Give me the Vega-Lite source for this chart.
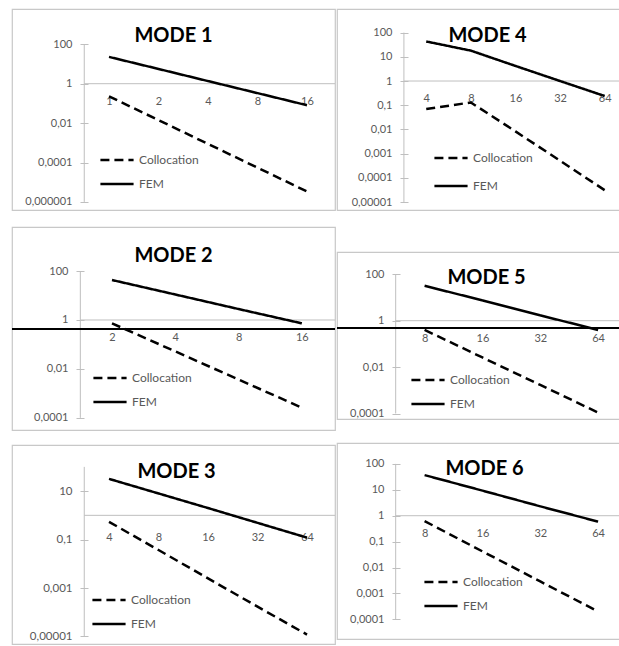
{
"$schema": "https://vega.github.io/schema/vega-lite/v6.json",
"padding": {"left": 10, "top": 8, "right": 0, "bottom": 0},
"background": "white",
"config": {
  "font": "Lato",
  "view": {"stroke": "#c8c8c8", "strokeWidth": 1.2},
  "axis": {"labelFont": "Lato", "labelFontSize": 11, "labelColor": "#595959", "grid": false, "domain": false},
  "axisX": {"ticks": false, "labelPadding": 11, "labelFlush": false, "labelOverlap": false},
  "axisY": {"tickSize": 8, "tickColor": "#bfbfbf", "tickWidth": 1, "labelPadding": 8, "labelOverlap": false},
  "legend": {"orient": "none", "symbolType": "stroke", "symbolSize": 1100, "symbolStrokeWidth": 2.5, "symbolStrokeColor": "black", "labelFont": "Lato", "labelFontSize": 12, "labelColor": "#595959", "labelOffset": 4, "padding": 0, "rowPadding": 0},
  "title": {"font": "Lato", "fontSize": 20, "fontWeight": "bold", "color": "black", "anchor": "middle", "frame": "group"}
},
"datasets": {
  "m1": [
    {"n": 1, "method": "Collocation", "error": 0.23}, {"n": 2, "method": "Collocation", "error": 0.0142}, {"n": 4, "method": "Collocation", "error": 0.00088}, {"n": 8, "method": "Collocation", "error": 0.000055}, {"n": 16, "method": "Collocation", "error": 0.0000034},
    {"n": 1, "method": "FEM", "error": 22.9}, {"n": 2, "method": "FEM", "error": 5.6}, {"n": 4, "method": "FEM", "error": 1.36}, {"n": 8, "method": "FEM", "error": 0.333}, {"n": 16, "method": "FEM", "error": 0.081}
  ],
  "m2": [
    {"n": 2, "method": "Collocation", "error": 0.73}, {"n": 4, "method": "Collocation", "error": 0.052}, {"n": 8, "method": "Collocation", "error": 0.0037}, {"n": 16, "method": "Collocation", "error": 0.00026},
    {"n": 2, "method": "FEM", "error": 43}, {"n": 4, "method": "FEM", "error": 11}, {"n": 8, "method": "FEM", "error": 2.8}, {"n": 16, "method": "FEM", "error": 0.73}
  ],
  "m3": [
    {"n": 4, "method": "Collocation", "error": 0.54}, {"n": 8, "method": "Collocation", "error": 0.037}, {"n": 16, "method": "Collocation", "error": 0.0025}, {"n": 32, "method": "Collocation", "error": 0.00017}, {"n": 64, "method": "Collocation", "error": 0.000012},
    {"n": 4, "method": "FEM", "error": 32}, {"n": 8, "method": "FEM", "error": 8.0}, {"n": 16, "method": "FEM", "error": 2.0}, {"n": 32, "method": "FEM", "error": 0.49}, {"n": 64, "method": "FEM", "error": 0.12}
  ],
  "m4": [
    {"n": 4, "method": "Collocation", "error": 0.07}, {"n": 8, "method": "Collocation", "error": 0.13}, {"n": 16, "method": "Collocation", "error": 0.0083}, {"n": 32, "method": "Collocation", "error": 0.00051}, {"n": 64, "method": "Collocation", "error": 0.000031},
    {"n": 4, "method": "FEM", "error": 43}, {"n": 8, "method": "FEM", "error": 18}, {"n": 16, "method": "FEM", "error": 4.2}, {"n": 32, "method": "FEM", "error": 1.0}, {"n": 64, "method": "FEM", "error": 0.24}
  ],
  "m5": [
    {"n": 8, "method": "Collocation", "error": 0.40}, {"n": 16, "method": "Collocation", "error": 0.026}, {"n": 32, "method": "Collocation", "error": 0.0017}, {"n": 64, "method": "Collocation", "error": 0.00011},
    {"n": 8, "method": "FEM", "error": 32}, {"n": 16, "method": "FEM", "error": 7.5}, {"n": 32, "method": "FEM", "error": 1.7}, {"n": 64, "method": "FEM", "error": 0.40}
  ],
  "m6": [
    {"n": 8, "method": "Collocation", "error": 0.62}, {"n": 16, "method": "Collocation", "error": 0.042}, {"n": 32, "method": "Collocation", "error": 0.0029}, {"n": 64, "method": "Collocation", "error": 0.0002},
    {"n": 8, "method": "FEM", "error": 37}, {"n": 16, "method": "FEM", "error": 9.3}, {"n": 32, "method": "FEM", "error": 2.3}, {"n": 64, "method": "FEM", "error": 0.59}
  ]
},
"spacing": -5,
"resolve": {"scale": {"strokeDash": "independent"}, "legend": {"strokeDash": "independent"}},
"hconcat": [
 {
  "spacing": 13,
  "resolve": {"scale": {"strokeDash": "independent"}, "legend": {"strokeDash": "independent"}},
  "vconcat": [
   {
    "spacing": 15,
    "resolve": {"scale": {"strokeDash": "independent"}, "legend": {"strokeDash": "independent"}},
    "vconcat": [
     {
      "width": 323, "height": 201,
      "title": {"text": "MODE 1", "offset": -37},
      "resolve": {"axis": {"x": "independent", "y": "independent"}},
      "layer": [
       {"data": {"values": [{}]}, "mark": {"type": "rule", "color": "#bfbfbf", "strokeWidth": 1},
        "encoding": {
         "x": {"datum": 0.7071, "type": "quantitative", "scale": {"type": "log", "base": 2, "domain": [0.257, 23.7], "nice": false}, "axis": null},
         "x2": {"datum": 23.7},
         "y": {"datum": 1, "type": "quantitative", "scale": {"type": "log", "domain": [3.9e-7, 6170], "nice": false}, "axis": null}}},
       {"data": {"values": [{}]}, "mark": {"type": "rule", "color": "#bfbfbf", "strokeWidth": 1},
        "encoding": {
         "x": {"datum": 0.7071, "type": "quantitative", "scale": {"type": "log", "base": 2, "domain": [0.257, 23.7], "nice": false}, "axis": null},
         "y": {"datum": 100, "type": "quantitative", "scale": {"type": "log", "domain": [3.9e-7, 6170], "nice": false}, "axis": null},
         "y2": {"datum": 0.000001}}},
       {"data": {"name": "m1"}, "mark": {"type": "line", "color": "black", "strokeWidth": 2.5},
        "encoding": {
         "x": {"field": "n", "type": "quantitative", "scale": {"type": "log", "base": 2, "domain": [0.257, 23.7], "nice": false},
               "axis": {"orient": "bottom", "offset": -126, "values": [1, 2, 4, 8, 16], "format": "d", "title": null}},
         "y": {"field": "error", "type": "quantitative", "scale": {"type": "log", "domain": [3.9e-7, 6170], "nice": false},
               "axis": {"orient": "left", "offset": -76, "values": [0.000001, 0.0001, 0.01, 1, 100], "labelExpr": "replace(datum.value + '', '.', ',')", "title": null}},
         "strokeDash": {"field": "method", "type": "nominal", "title": null, "scale": {"domain": ["Collocation", "FEM"], "range": [[9, 5], [1, 0]]},
               "legend": {"legendX": 87, "legendY": 133}}}}
      ]
     },
     {
      "width": 323, "height": 203,
      "title": {"text": "MODE 2", "offset": -39},
      "resolve": {"axis": {"x": "independent", "y": "independent"}},
      "layer": [
       {"data": {"values": [{}]}, "mark": {"type": "rule", "color": "#bfbfbf", "strokeWidth": 1},
        "encoding": {
         "x": {"datum": 1.414, "type": "quantitative", "scale": {"type": "log", "base": 2, "domain": [0.669, 23.0], "nice": false}, "axis": null},
         "x2": {"datum": 23.0},
         "y": {"datum": 1, "type": "quantitative", "scale": {"type": "log", "domain": [3.2e-5, 6300], "nice": false}, "axis": null}}},
       {"data": {"values": [{}]}, "mark": {"type": "rule", "color": "#bfbfbf", "strokeWidth": 1},
        "encoding": {
         "x": {"datum": 1.414, "type": "quantitative", "scale": {"type": "log", "base": 2, "domain": [0.669, 23.0], "nice": false}, "axis": null},
         "y": {"datum": 100, "type": "quantitative", "scale": {"type": "log", "domain": [3.2e-5, 6300], "nice": false}, "axis": null},
         "y2": {"datum": 0.0001}}},
       {"data": {"name": "m2"}, "mark": {"type": "line", "color": "black", "strokeWidth": 2.5},
        "encoding": {
         "x": {"field": "n", "type": "quantitative", "scale": {"type": "log", "base": 2, "domain": [0.669, 23.0], "nice": false},
               "axis": {"orient": "bottom", "offset": -110, "values": [2, 4, 8, 16], "format": "d", "title": null}},
         "y": {"field": "error", "type": "quantitative", "scale": {"type": "log", "domain": [3.2e-5, 6300], "nice": false},
               "axis": {"orient": "left", "offset": -72, "values": [0.0001, 0.01, 1, 100], "labelExpr": "replace(datum.value + '', '.', ',')", "title": null}},
         "strokeDash": {"field": "method", "type": "nominal", "title": null, "scale": {"domain": ["Collocation", "FEM"], "range": [[9, 5], [1, 0]]},
               "legend": {"legendX": 80, "legendY": 133}}}},
       {"data": {"values": [{}]}, "mark": {"type": "rule", "color": "black", "strokeWidth": 2},
        "encoding": {
         "y": {"datum": 0.43, "type": "quantitative", "scale": {"type": "log", "domain": [3.2e-5, 6300], "nice": false}, "axis": null}}}
      ]
     }
    ]
   },
   {
    "width": 323, "height": 199,
    "title": {"text": "MODE 3", "offset": -37, "dx": 3},
    "resolve": {"axis": {"x": "independent", "y": "independent"}},
    "layer": [
     {"data": {"values": [{}]}, "mark": {"type": "rule", "color": "#bfbfbf", "strokeWidth": 1},
      "encoding": {
       "x": {"datum": 2.828, "type": "quantitative", "scale": {"type": "log", "base": 2, "domain": [1.028, 94.7], "nice": false}, "axis": null},
       "x2": {"datum": 94.7},
       "y": {"datum": 1, "type": "quantitative", "scale": {"type": "log", "domain": [4.9e-6, 800], "nice": false}, "axis": null}}},
     {"data": {"values": [{}]}, "mark": {"type": "rule", "color": "#bfbfbf", "strokeWidth": 1},
      "encoding": {
       "x": {"datum": 2.828, "type": "quantitative", "scale": {"type": "log", "base": 2, "domain": [1.028, 94.7], "nice": false}, "axis": null},
       "y": {"datum": 100, "type": "quantitative", "scale": {"type": "log", "domain": [4.9e-6, 800], "nice": false}, "axis": null},
       "y2": {"datum": 0.00001}}},
     {"data": {"name": "m3"}, "mark": {"type": "line", "color": "black", "strokeWidth": 2.5},
      "encoding": {
       "x": {"field": "n", "type": "quantitative", "scale": {"type": "log", "base": 2, "domain": [1.028, 94.7], "nice": false},
             "axis": {"orient": "bottom", "offset": -124, "values": [4, 8, 16, 32, 64], "format": "d", "title": null}},
       "y": {"field": "error", "type": "quantitative", "scale": {"type": "log", "domain": [4.9e-6, 800], "nice": false},
             "axis": {"orient": "left", "offset": -76, "values": [0.00001, 0.001, 0.1, 10], "labelExpr": "replace(datum.value + '', '.', ',')", "labelFontSize": 11.5, "title": null}},
       "strokeDash": {"field": "method", "type": "nominal", "title": null, "scale": {"domain": ["Collocation", "FEM"], "range": [[9, 5], [1, 0]]},
             "legend": {"legendX": 79, "legendY": 137}}}}
    ]
   }
  ]
 },
 {
  "spacing": 40,
  "resolve": {"scale": {"strokeDash": "independent"}, "legend": {"strokeDash": "independent"}},
  "vconcat": [
   {
    "width": 287, "height": 201,
    "title": {"text": "MODE 4", "offset": -37, "dx": 7},
    "resolve": {"axis": {"x": "independent", "y": "independent"}},
    "layer": [
     {"data": {"values": [{}]}, "mark": {"type": "rule", "color": "#bfbfbf", "strokeWidth": 1},
      "encoding": {
       "x": {"datum": 2.828, "type": "quantitative", "scale": {"type": "log", "base": 2, "domain": [1.0, 86.4], "nice": false}, "axis": null},
       "x2": {"datum": 86.4},
       "y": {"datum": 1, "type": "quantitative", "scale": {"type": "log", "domain": [4.7e-6, 944], "nice": false}, "axis": null}}},
     {"data": {"values": [{}]}, "mark": {"type": "rule", "color": "#bfbfbf", "strokeWidth": 1},
      "encoding": {
       "x": {"datum": 2.828, "type": "quantitative", "scale": {"type": "log", "base": 2, "domain": [1.0, 86.4], "nice": false}, "axis": null},
       "y": {"datum": 100, "type": "quantitative", "scale": {"type": "log", "domain": [4.7e-6, 944], "nice": false}, "axis": null},
       "y2": {"datum": 0.00001}}},
     {"data": {"name": "m4"}, "mark": {"type": "line", "color": "black", "strokeWidth": 2.5},
      "encoding": {
       "x": {"field": "n", "type": "quantitative", "scale": {"type": "log", "base": 2, "domain": [1.0, 86.4], "nice": false},
             "axis": {"orient": "bottom", "offset": -129, "values": [4, 8, 16, 32, 64], "format": "d", "title": null}},
       "y": {"field": "error", "type": "quantitative", "scale": {"type": "log", "domain": [4.7e-6, 944], "nice": false},
             "axis": {"orient": "left", "offset": -71, "values": [0.00001, 0.0001, 0.001, 0.01, 0.1, 1, 10, 100], "labelExpr": "replace(datum.value + '', '.', ',')", "title": null}},
       "strokeDash": {"field": "method", "type": "nominal", "title": null, "scale": {"domain": ["Collocation", "FEM"], "range": [[9, 5], [1, 0]]},
             "legend": {"legendX": 96, "legendY": 131, "rowPadding": 4}}}}
    ]
   },
   {
    "spacing": 22,
    "resolve": {"scale": {"strokeDash": "independent"}, "legend": {"strokeDash": "independent"}},
    "vconcat": [
     {
      "width": 287, "height": 167,
      "title": {"text": "MODE 5", "offset": -36, "dx": 6},
      "resolve": {"axis": {"x": "independent", "y": "independent"}},
      "layer": [
       {"data": {"values": [{}]}, "mark": {"type": "rule", "color": "#bfbfbf", "strokeWidth": 1},
        "encoding": {
         "x": {"datum": 5.657, "type": "quantitative", "scale": {"type": "log", "base": 2, "domain": [2.8, 87.3], "nice": false}, "axis": null},
         "x2": {"datum": 87.3},
         "y": {"datum": 1, "type": "quantitative", "scale": {"type": "log", "domain": [5.8e-5, 914], "nice": false}, "axis": null}}},
       {"data": {"values": [{}]}, "mark": {"type": "rule", "color": "#bfbfbf", "strokeWidth": 1},
        "encoding": {
         "x": {"datum": 5.657, "type": "quantitative", "scale": {"type": "log", "base": 2, "domain": [2.8, 87.3], "nice": false}, "axis": null},
         "y": {"datum": 100, "type": "quantitative", "scale": {"type": "log", "domain": [5.8e-5, 914], "nice": false}, "axis": null},
         "y2": {"datum": 0.0001}}},
       {"data": {"name": "m5"}, "mark": {"type": "line", "color": "black", "strokeWidth": 2.5},
        "encoding": {
         "x": {"field": "n", "type": "quantitative", "scale": {"type": "log", "base": 2, "domain": [2.8, 87.3], "nice": false},
               "axis": {"orient": "bottom", "offset": -98, "values": [8, 16, 32, 64], "format": "d", "title": null}},
         "y": {"field": "error", "type": "quantitative", "scale": {"type": "log", "domain": [5.8e-5, 914], "nice": false},
               "axis": {"orient": "left", "offset": -63, "values": [0.0001, 0.01, 1, 100], "labelExpr": "replace(datum.value + '', '.', ',')", "title": null}},
         "strokeDash": {"field": "method", "type": "nominal", "title": null, "scale": {"domain": ["Collocation", "FEM"], "range": [[9, 5], [1, 0]]},
               "legend": {"legendX": 73, "legendY": 110}}}},
       {"data": {"values": [{}]}, "mark": {"type": "rule", "color": "black", "strokeWidth": 2},
        "encoding": {
         "y": {"datum": 0.48, "type": "quantitative", "scale": {"type": "log", "domain": [5.8e-5, 914], "nice": false}, "axis": null}}}
      ]
     },
     {
      "width": 287, "height": 196,
      "title": {"text": "MODE 6", "offset": -36, "dx": 4},
      "resolve": {"axis": {"x": "independent", "y": "independent"}},
      "layer": [
       {"data": {"values": [{}]}, "mark": {"type": "rule", "color": "#bfbfbf", "strokeWidth": 1},
        "encoding": {
         "x": {"datum": 5.657, "type": "quantitative", "scale": {"type": "log", "base": 2, "domain": [2.8, 87.3], "nice": false}, "axis": null},
         "x2": {"datum": 87.3},
         "y": {"datum": 1, "type": "quantitative", "scale": {"type": "log", "domain": [1.74e-5, 641], "nice": false}, "axis": null}}},
       {"data": {"values": [{}]}, "mark": {"type": "rule", "color": "#bfbfbf", "strokeWidth": 1},
        "encoding": {
         "x": {"datum": 5.657, "type": "quantitative", "scale": {"type": "log", "base": 2, "domain": [2.8, 87.3], "nice": false}, "axis": null},
         "y": {"datum": 100, "type": "quantitative", "scale": {"type": "log", "domain": [1.74e-5, 641], "nice": false}, "axis": null},
         "y2": {"datum": 0.0001}}},
       {"data": {"name": "m6"}, "mark": {"type": "line", "color": "black", "strokeWidth": 2.5},
        "encoding": {
         "x": {"field": "n", "type": "quantitative", "scale": {"type": "log", "base": 2, "domain": [2.8, 87.3], "nice": false},
               "axis": {"orient": "bottom", "offset": -123, "values": [8, 16, 32, 64], "format": "d", "title": null}},
         "y": {"field": "error", "type": "quantitative", "scale": {"type": "log", "domain": [1.74e-5, 641], "nice": false},
               "axis": {"orient": "left", "offset": -63, "values": [0.0001, 0.001, 0.01, 0.1, 1, 10, 100], "labelExpr": "replace(datum.value + '', '.', ',')", "title": null}},
         "strokeDash": {"field": "method", "type": "nominal", "title": null, "scale": {"domain": ["Collocation", "FEM"], "range": [[9, 5], [1, 0]]},
               "legend": {"legendX": 86, "legendY": 121}}}}
      ]
     }
    ]
   }
  ]
 }
]
}
